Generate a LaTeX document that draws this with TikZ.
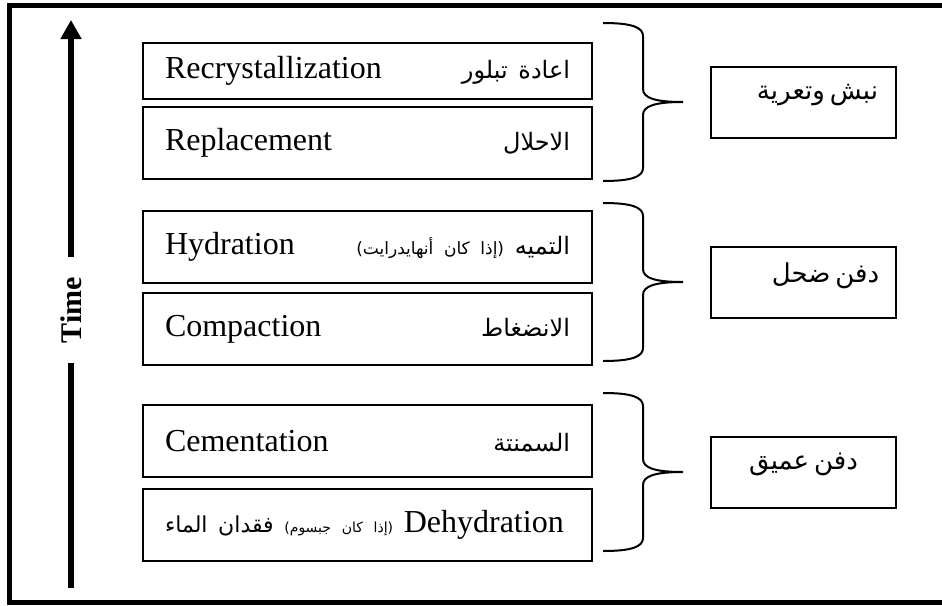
\documentclass[tikz,border=0pt]{standalone}
\usepackage{fontspec}
\setmainfont{Liberation Serif}
\newfontfamily\arabicfont[Script=Arabic, WordSpace=0.6]{DejaVu Sans}
\TeXXeTstate=1
\usepackage{tikz}
\usetikzlibrary{arrows.meta,positioning}
\newcommand\artext[2][24]{{\fontsize{#1}{#1}\arabicfont\beginR #2\endR}}
\tikzset{
    stage/.style={rectangle, draw, line width=2pt,
        minimum height=72pt, text width=405pt, inner xsep=22pt, inner ysep=0pt,
        font=\fontsize{32}{36}\selectfont},
    phase/.style={rectangle, draw, line width=2pt,
        minimum width=185pt, minimum height=71pt},
    timeline/.style={line width=5.5pt},
    rbrace/.pic={
        \draw[line width=2pt] (0,0) .. controls (28,0) and (40,4) .. (40,13) -- (40,66)
            .. controls (40,75) and (52,79) .. (80,79)
            .. controls (52,79) and (40,83) .. (40,92) -- (40,145)
            .. controls (40,154) and (28,158) .. (0,158);
        \coordinate (-tip) at (80,79);
    }
}

\begin{document}
\begin{tikzpicture}[x=1pt, y=-1pt]
    \useasboundingbox (0,0) rectangle (942,605);
    \clip (0,0) rectangle (942,605);
    \draw[line width=5pt] (9.5,5.5) rectangle (948,602);

    % time axis
    \coordinate (tbot) at (71,588);
    \coordinate (ttop) at (71,20);
    \node[font=\fontsize{30}{30}\selectfont\bfseries, rotate=90, inner xsep=20pt] (time) at (71,310) {Time};
    \draw[timeline] (tbot) -- (time);
    \draw[timeline, -{Triangle[width=20pt,length=19pt]}] (time) -- (ttop);

    % processes
    \node[stage, minimum height=56pt] (recr) at (367.5,71) {Recrystallization\hfill\artext{اعادة تبلور}};
    \node[stage] (repl) [below=6pt of recr] {Replacement\hfill\artext{الاحلال}};
    \node[stage] (hydr) [below=30pt of repl] {Hydration\hfill\artext{التميه {\fontsize{17}{17}\selectfont (إذا كان أنهايدرايت)}}};
    \node[stage] (comp) [below=8pt of hydr] {Compaction\hfill\artext{الانضغاط}};
    \node[stage] (cement) [below=38pt of comp] {Cementation\hfill\artext{السمنتة}};
    \node[stage] (dehydr) [below=10pt of cement] {\mbox{\artext[22]{فقدان الماء} \artext[14]{(إذا كان جبسوم)} Dehydration}\hfill};

    % braces and phases
    \pic (br1) at (603,23) {rbrace};
    \pic (br2) at (603,203) {rbrace};
    \pic (br3) at (603,393) {rbrace};
    \node[phase, right=27pt of br1-tip] (uplift) {};
    \node[phase, right=27pt of br2-tip] (shallow) {};
    \node[phase, right=27pt of br3-tip] (deep) {};
    \node (uplifttext) at ([xshift=14pt,yshift=7pt]uplift.center) {\artext[26]{نبش وتعرية}};
    \node (shallowtext) at ([xshift=22pt,yshift=6pt]shallow.center) {\artext[26]{دفن ضحل}};
    \node (deeptext) at ([xshift=0pt,yshift=8pt]deep.center) {\artext[26]{دفن عميق}};
\end{tikzpicture}
\end{document}
